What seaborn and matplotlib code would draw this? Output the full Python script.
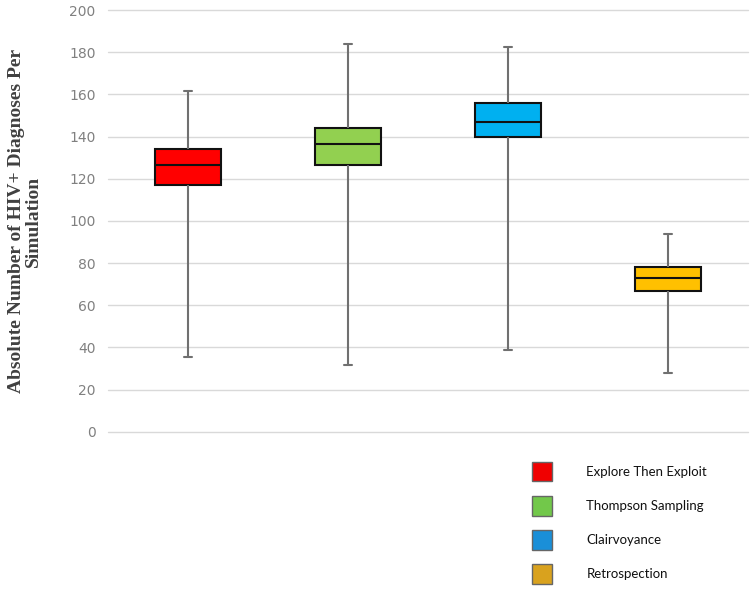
import matplotlib
matplotlib.use("Agg")
import matplotlib.pyplot as plt
import matplotlib.patches as mpatches
import seaborn as sns
import pandas as pd

categories = ["Explore Then Exploit", "Thompson Sampling", "Clairvoyance", "Retrospection"]
whisker_low = [35.5, 31.5, 39, 28]
q1_vals = [117, 126.5, 140, 67]
medians = [126.5, 136.5, 147, 73]
q3_vals = [134, 144, 156, 78]
whisker_high = [161.5, 184, 182.5, 94]
colors = ["#FF0000", "#92D050", "#00B0F0", "#FFC000"]
legend_colors = ["#F00000", "#72C84A", "#1A8FD8", "#D9A21E"]

rows = []
for c, lo, a, m, b, hi in zip(categories, whisker_low, q1_vals, medians, q3_vals, whisker_high):
    for v in (lo, a, m, b, hi):
        rows.append({"cat": c, "val": v})
df = pd.DataFrame(rows)

sns.set_theme(style="white")
fig = plt.figure(figsize=(7.5, 5.94), dpi=100)
ax = fig.add_axes([0.144, 0.273, 0.853, 0.71])

sns.boxplot(data=df, x="cat", y="val", hue="cat", palette=colors, whis=(0, 100),
            width=0.41, linewidth=1.5, showfliers=False, legend=False, ax=ax,
            saturation=1,
            boxprops=dict(edgecolor="#111111", linewidth=1.5),
            medianprops=dict(color="#111111", linewidth=1.5),
            whiskerprops=dict(color="#707070", linewidth=1.5),
            capprops=dict(color="#707070", linewidth=1.5),
            capwidths=0.05)

ax.set_ylim(0, 200)
ax.set_xlim(-0.5, 3.5)
ax.set_yticks(range(0, 201, 20))
ax.yaxis.grid(True, color="#D9D9D9", linewidth=1)
for gl in ax.get_ygridlines():
    gl.set_clip_on(False)
ax.set_axisbelow(True)
for s in ax.spines.values():
    s.set_visible(False)
ax.set_xticks([])
ax.set_xlabel("")
ax.tick_params(axis="y", colors="#808080", labelsize=10, length=0, pad=9)
ax.set_ylabel("Absolute Number of HIV+ Diagnoses Per\nSimulation", family="Liberation Serif",
              fontweight="bold", fontsize=14, color="#404040", linespacing=0.95)
ax.yaxis.set_label_coords(-0.104, 0.5)

handles = [mpatches.Patch(facecolor=c, edgecolor="#666666", label=l)
           for c, l in zip(legend_colors, categories)]
fig.legend(handles=handles, loc="upper left", bbox_to_anchor=(0.694, 0.243), frameon=False,
           prop={"family": "Lato", "size": 9.5},
           handlelength=1.5, handleheight=1.95, labelspacing=1.08, handletextpad=2.6,
           borderpad=0.4, labelcolor="#111111")

fig.savefig("out.png", dpi=100)
